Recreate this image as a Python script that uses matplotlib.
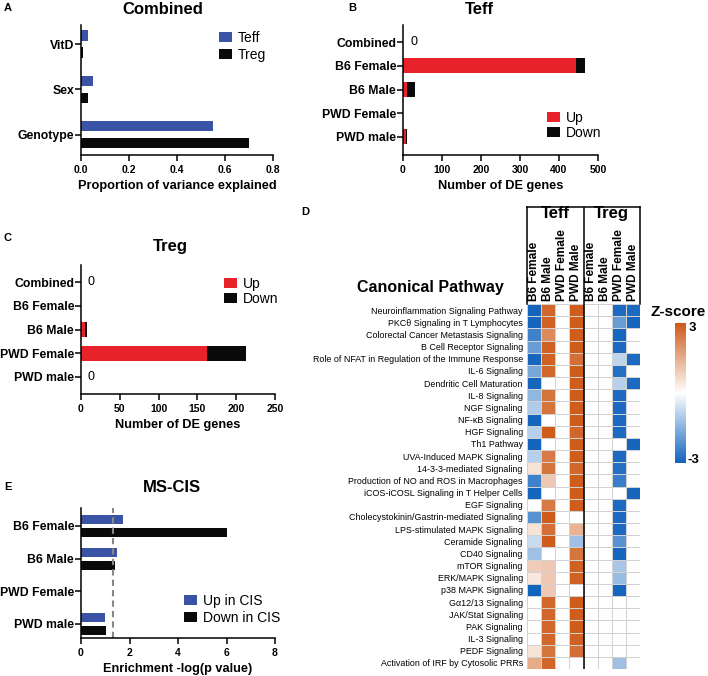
import matplotlib
matplotlib.use('Agg')
import matplotlib.pyplot as plt
import numpy as np
from matplotlib.colors import LinearSegmentedColormap

plt.rcParams['font.family'] = ['Liberation Sans', 'DejaVu Sans']

# ---------------- data ----------------
# Panel A
a_categories = ['Genotype', 'Sex', 'VitD']
a_teff = [0.55, 0.05, 0.03]
a_treg = [0.70, 0.03, 0.01]
a_xticks = [0.0, 0.2, 0.4, 0.6, 0.8]

# Panels B and C (bottom to top)
de_categories = ['PWD male', 'PWD Female', 'B6 Male', 'B6 Female', 'Combined']
b_up = [8, 0, 10, 443, 0]
b_down = [2, 0, 20, 23, 0]
b_zero = ['Combined']
b_xticks = [0, 100, 200, 300, 400, 500]
c_up = [0, 162, 5, 0, 0]
c_down = [0, 50, 3, 0, 0]
c_zero = ['Combined', 'PWD male']
c_xticks = [0, 50, 100, 150, 200, 250]

# Panel E (bottom to top)
e_categories = ['PWD male', 'PWD Female', 'B6 Male', 'B6 Female']
e_up = [1.0, 0, 1.5, 1.75]
e_down = [1.05, 0, 1.4, 6.0]
e_threshold = 1.3
e_xticks = [0, 2, 4, 6, 8]

# Panel D
hm_columns = ['B6 Female', 'B6 Male', 'PWD Female', 'PWD Male',
              'B6 Female', 'B6 Male', 'PWD Female', 'PWD Male']
hm_groups = ['Teff', 'Treg']
pathways = [
    'Neuroinflammation Signaling Pathway',
    'PKC\u03b8 Signaling in T Lymphocytes',
    'Colorectal Cancer Metastasis Signaling',
    'B Cell Receptor Signaling',
    'Role of NFAT in Regulation of the Immune Response',
    'IL-6 Signaling',
    'Dendritic Cell Maturation',
    'IL-8 Signaling',
    'NGF Signaling',
    'NF-\u03baB Signaling',
    'HGF Signaling',
    'Th1 Pathway',
    'UVA-Induced MAPK Signaling',
    '14-3-3-mediated Signaling',
    'Production of NO and ROS in Macrophages',
    'iCOS-iCOSL Signaling in T Helper Cells',
    'EGF Signaling',
    'Cholecystokinin/Gastrin-mediated Signaling',
    'LPS-stimulated MAPK Signaling',
    'Ceramide Signaling',
    'CD40 Signaling',
    'mTOR Signaling',
    'ERK/MAPK Signaling',
    'p38 MAPK Signaling',
    'G\u03b112/13 Signaling',
    'JAK/Stat Signaling',
    'PAK Signaling',
    'IL-3 Signaling',
    'PEDF Signaling',
    'Activation of IRF by Cytosolic PRRs',
]
zscores = [
    [-3.0, 2.75, 0, 2.95, 0, 0, -2.85, -2.85],
    [-2.95, 2.85, 0, 2.95, 0, 0, -1.9, -2.95],
    [-2.4, 2.1, 0, 2.95, 0, 0, -2.95, 0],
    [-1.9, 2.85, 0, 2.95, 0, 0, -2.85, 0],
    [-2.95, 2.85, 0, 2.6, 0, 0, -0.8, -2.85],
    [-1.7, 2.75, 0, 2.95, 0, 0, -2.75, 0],
    [-2.95, 0, 0, 2.95, 0, 0, -0.9, -2.85],
    [-1.4, 2.5, 0, 2.95, 0, 0, -2.85, 0],
    [-1.0, 2.5, 0, 2.95, 0, 0, -2.85, 0],
    [-2.95, 0, 0, 2.95, 0, 0, -2.85, 0],
    [-0.9, 2.95, 0, 2.75, 0, 0, -2.85, 0],
    [-3.0, 0, 0, 2.95, 0, 0, 0, -2.95],
    [-0.9, 2.4, 0, 2.95, 0, 0, -2.85, 0],
    [0.5, 2.5, 0, 2.75, 0, 0, -2.75, 0],
    [-2.4, 1.0, 0, 2.95, 0, 0, -2.5, 0],
    [-2.95, 0, 0, 2.95, 0, 0, 0, -2.95],
    [0, 2.4, 0, 2.95, 0, 0, -2.85, 0],
    [-2.1, 2.95, 0, 0, 0, 0, -2.85, 0],
    [0.5, 2.6, 0, 1.4, 0, 0, -2.85, 0],
    [-0.7, 2.95, 0, -1.2, 0, 0, -2.1, 0],
    [-1.2, 0, 0, 2.5, 0, 0, -2.95, 0],
    [0.9, 1.0, 0, 2.85, 0, 0, -1.1, 0],
    [0.4, 1.0, 0, 2.85, 0, 0, -1.3, 0],
    [-3.0, 1.0, 0, 0, 0, 0, -2.95, 0],
    [0, 2.75, 0, 2.95, 0, 0, 0, 0],
    [0, 2.75, 0, 2.95, 0, 0, 0, 0],
    [0, 2.75, 0, 2.95, 0, 0, 0, 0],
    [0, 2.75, 0, 2.85, 0, 0, 0, 0],
    [0.5, 2.5, 0, 2.6, 0, 0, 0, 0],
    [1.5, 2.75, 0, 0, 0, 0, -1.2, 0],
]

# ---------------- styling ----------------
BLUE = '#3a53a4'
RED = '#e8222b'
BLACK = '#0a0a0a'
W, H = 708, 676
YLAB = 8.8


def rect(x0, y0, x1, y1):
    return [x0 / W, 1 - y1 / H, (x1 - x0) / W, (y1 - y0) / H]


def style(ax):
    for s in ['top', 'right']:
        ax.spines[s].set_visible(False)
    for s in ['left', 'bottom']:
        ax.spines[s].set_linewidth(1.1)
    ax.tick_params(direction='out', length=4, width=1.1)
    ax.tick_params(axis='y', labelsize=YLAB, pad=1)
    ax.tick_params(axis='x', labelsize=7.5, pad=3)
    for lab in ax.get_yticklabels() + ax.get_xticklabels():
        lab.set_fontweight('bold')


def legend(ax, x, y, spacing):
    ax.legend(loc='upper left', bbox_to_anchor=(x / W, 1 - y / H), bbox_transform=fig.transFigure,
              frameon=False, fontsize=10, borderpad=0, borderaxespad=0, handlelength=0.95,
              handleheight=0.75, handletextpad=0.4, labelspacing=spacing)


fig = plt.figure(figsize=(W / 100, H / 100), dpi=100)

# ---------------- Panel A ----------------
axA = fig.add_axes(rect(81, 25, 273, 155))
ya = np.arange(len(a_categories))
axA.barh(ya + 0.19, a_teff, height=0.23, color=BLUE, label='Teff')
axA.barh(ya - 0.19, a_treg, height=0.23, color=BLACK, label='Treg')
axA.set_yticks(ya)
axA.set_yticklabels(a_categories)
axA.set_xticks(a_xticks)
axA.set_xticklabels([f'{v:.1f}' for v in a_xticks])
axA.set_xlim(0, 0.8)
axA.set_ylim(-0.45, 2.42)
style(axA)
axA.set_xlabel('Proportion of variance explained', fontsize=9.2, fontweight='bold', labelpad=4)
legend(axA, 219, 31, 0.2)
fig.text(163 / W, 1 - 10 / H, 'Combined', fontsize=12, fontweight='bold', ha='center', va='center')


def de_panel(box, up, down, zero_cats, xticks, xmax, zero_dx, ylim, leg_xy):
    ax = fig.add_axes(rect(*box))
    y = np.arange(len(de_categories))
    ax.barh(y, up, height=0.63, color=RED, label='Up')
    ax.barh(y, down, left=up, height=0.63, color=BLACK, label='Down')
    ax.set_yticks(y)
    ax.set_yticklabels(de_categories)
    ax.set_xticks(xticks)
    ax.set_xlim(0, xmax)
    ax.set_ylim(*ylim)
    for c in zero_cats:
        ax.text(zero_dx, de_categories.index(c), '0', fontsize=9, va='center', ha='left')
    style(ax)
    ax.set_xlabel('Number of DE genes', fontsize=9.2, fontweight='bold', labelpad=4)
    legend(ax, leg_xy[0], leg_xy[1], 0.05)
    return ax


# ---------------- Panel B ----------------
axB = de_panel((403, 25, 598, 155), b_up, b_down, b_zero, b_xticks, 500, 18,
               (-0.76, 4.72), (547, 111))
fig.text(479 / W, 1 - 10 / H, 'Teff', fontsize=12, fontweight='bold', ha='center', va='center')

# ---------------- Panel C ----------------
axC = de_panel((81, 265, 275, 394), c_up, c_down, c_zero, c_xticks, 250, 9,
               (-0.72, 4.72), (224, 277))
fig.text(170 / W, 1 - 246 / H, 'Treg', fontsize=12, fontweight='bold', ha='center', va='center')

# ---------------- Panel E ----------------
axE = fig.add_axes(rect(81, 508, 275, 638))
ye = np.arange(len(e_categories))
axE.barh(ye + 0.2, e_up, height=0.27, color=BLUE, label='Up in CIS')
axE.barh(ye - 0.2, e_down, height=0.27, color=BLACK, label='Down in CIS')
axE.axvline(e_threshold, color='#888888', ls=(0, (3, 2)), lw=1.5)
axE.set_yticks(ye)
axE.set_yticklabels(e_categories)
axE.set_xticks(e_xticks)
axE.set_xlim(0, 8)
axE.set_ylim(-0.43, 3.55)
style(axE)
axE.set_xlabel('Enrichment -log(p value)', fontsize=9.2, fontweight='bold', labelpad=4)
legend(axE, 184, 594, 0.2)
fig.text(172 / W, 1 - 487 / H, 'MS-CIS', fontsize=12, fontweight='bold', ha='center', va='center')

# ---------------- Panel D ----------------
cmap = LinearSegmentedColormap.from_list('z', ['#1264bd', '#ffffff', '#cd5a18'])
Z = np.array(zscores)
axH = fig.add_axes(rect(527, 304, 640, 669))
mesh = axH.pcolormesh(np.arange(Z.shape[1] + 1), np.arange(Z.shape[0] + 1), Z, cmap=cmap,
                      vmin=-3, vmax=3, edgecolors='#d2d2d2', linewidth=0.6)
axH.set_xlim(0, Z.shape[1])
axH.set_ylim(Z.shape[0], 0)
axH.axvline(4, color='black', lw=1.1)
axH.set_yticks(np.arange(Z.shape[0]) + 0.5)
axH.set_yticklabels(pathways, fontsize=6.4)
axH.set_xticks([])
axH.tick_params(axis='y', length=0, pad=3)
for s in axH.spines.values():
    s.set_visible(False)

axHd = fig.add_axes(rect(527, 207, 640, 304))
axHd.set_xlim(0, 8)
axHd.set_ylim(0, 1)
axHd.set_xticks([])
axHd.set_yticks([])
for s in ['top', 'left', 'right']:
    axHd.spines[s].set_linewidth(1.1)
axHd.spines['bottom'].set_visible(False)
axHd.axvline(4, color='black', lw=1.1)
for i, g in enumerate(hm_groups):
    axHd.text(2 + 4 * i, 0.935, g, fontsize=12, fontweight='bold', ha='center', va='center')
for i, c in enumerate(hm_columns):
    axHd.text(i + 0.5, 0.03, c, rotation=90, fontsize=8.6, fontweight='bold', ha='center', va='bottom')

fig.text(430 / W, 1 - 288 / H, 'Canonical Pathway', fontsize=11.5, fontweight='bold',
         ha='center', va='center')

axCB = fig.add_axes(rect(675, 323, 686, 463))
cb = fig.colorbar(mesh, cax=axCB)
cb.outline.set_visible(False)
cb.set_ticks([])
fig.text(678 / W, 1 - 312 / H, 'Z-score', fontsize=11, fontweight='bold', ha='center', va='center')
fig.text(689 / W, 1 - 328 / H, '3', fontsize=9.5, fontweight='bold', ha='left', va='center')
fig.text(687 / W, 1 - 460 / H, '-3', fontsize=9.5, fontweight='bold', ha='left', va='center')

# ---------------- panel letters ----------------
for letter, (x, y) in {'A': (8, 8), 'B': (352, 8), 'C': (8, 238), 'D': (305, 212), 'E': (8, 487)}.items():
    fig.text(x / W, 1 - y / H, letter, fontsize=8, fontweight='bold', ha='center', va='center')

fig.savefig('out.png', dpi=100)
